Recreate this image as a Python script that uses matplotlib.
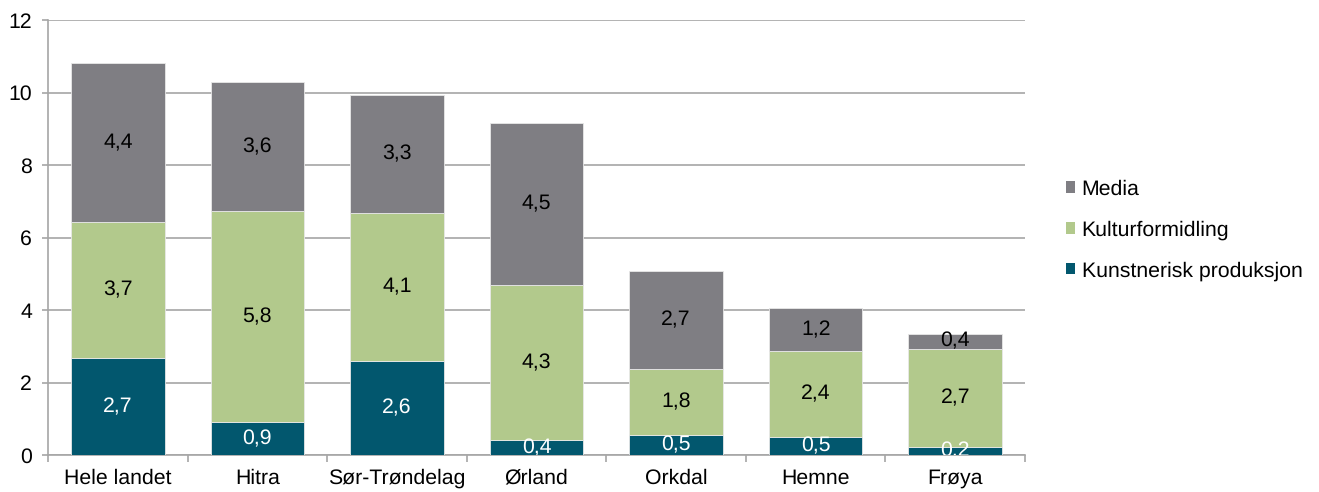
import matplotlib
matplotlib.use("Agg")
import matplotlib.pyplot as plt
from matplotlib.patches import Patch
from matplotlib.ticker import FixedLocator

categories = ["Hele landet", "Hitra", "Sør-Trøndelag", "Ørland", "Orkdal", "Hemne", "Frøya"]
kunstnerisk = [2.68, 0.91, 2.59, 0.41, 0.54, 0.49, 0.23]
kulturformidling = [3.74, 5.82, 4.08, 4.28, 1.83, 2.38, 2.70]
media = [4.38, 3.56, 3.27, 4.46, 2.71, 1.19, 0.42]
series_names = ["Kunstnerisk produksjon", "Kulturformidling", "Media"]
colors = ["#02576E", "#B2C98C", "#7F7E83"]
label_colors = ["white", "black", "black"]

plt.rcParams["font.family"] = ["Liberation Sans", "DejaVu Sans"]
plt.rcParams["text.hinting"] = "no_hinting"
FS = 15.3

fig = plt.figure(figsize=(13.19, 4.92), dpi=100)
ax = fig.add_axes([48/1319, 37/492, (1025-48)/1319, (455-20)/492])

x = list(range(len(categories)))
bottom = [0.0]*len(categories)
for vals, name, col, lc in zip([kunstnerisk, kulturformidling, media], series_names, colors, label_colors):
    ax.bar(x, vals, width=0.67, bottom=bottom, color=col, label=name,
           edgecolor="#E8E8E8", linewidth=0.6, zorder=3)
    for xi, v, b in zip(x, vals, bottom):
        ax.text(xi, b + v/2, f"{v:.1f}".replace(".", ","), ha="center", va="center",
                color=lc, fontsize=FS, zorder=4, clip_on=True)
    bottom = [b + v for b, v in zip(bottom, vals)]

ax.set_xlim(-0.5, len(categories)-0.5)
ax.set_ylim(0, 12)
ax.set_yticks(range(0, 13, 2))
ax.yaxis.grid(True, color="#A6A6A6", linewidth=1.2, zorder=0)
ax.set_axisbelow(True)
ax.set_xticks(x)
ax.set_xticklabels(categories, fontsize=FS)
for lab in ax.get_xticklabels():
    lab.set_verticalalignment("baseline")
ax.xaxis.set_minor_locator(FixedLocator([i - 0.5 for i in range(len(categories)+1)]))
ax.tick_params(axis="x", which="major", length=0, pad=20.5)
ax.tick_params(axis="x", which="minor", length=5, color="#A6A6A6", width=1.2)
ax.tick_params(axis="y", length=4.5, color="#A6A6A6", width=1.2, labelsize=FS, pad=7)
for s in ["top", "right"]:
    ax.spines[s].set_visible(False)
for s in ["left", "bottom"]:
    ax.spines[s].set_color("#A6A6A6")
    ax.spines[s].set_linewidth(1.2)

handles = [Patch(facecolor=c, edgecolor="none") for c in colors[::-1]]
fig.legend(handles, series_names[::-1], loc="center left", bbox_to_anchor=(1055/1319, 1-230/492),
           frameon=False, fontsize=FS, handlelength=0.45, handleheight=0.45,
           handletextpad=0.3, labelspacing=1.0, borderpad=0)

fig.savefig("out.png", dpi=100)
